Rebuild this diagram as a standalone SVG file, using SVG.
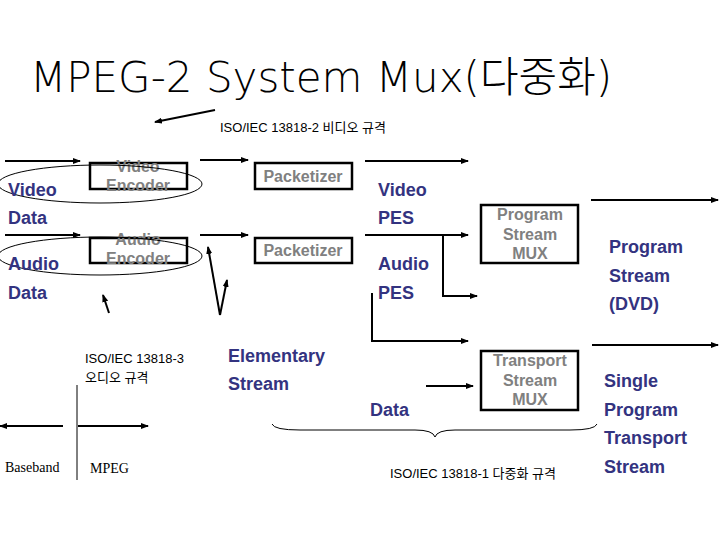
<svg xmlns="http://www.w3.org/2000/svg" width="720" height="540" viewBox="0 0 720 540">
<defs><marker id="ah" markerWidth="8" markerHeight="6" refX="7" refY="3" orient="auto" markerUnits="userSpaceOnUse"><path d="M0,0L8,3L0,6z" fill="#000"/></marker></defs>
<style>
.b{font-family:"Liberation Sans",Arial,sans-serif;font-weight:bold;font-size:18px;fill:#333380}
.g{font-family:"Liberation Sans",Arial,sans-serif;font-weight:bold;font-size:16px;fill:#808080;text-anchor:middle}
.s{font-family:"Liberation Sans","Noto Sans CJK KR",sans-serif;font-size:13px;fill:#000}
.box{fill:#fff;stroke:#000;stroke-width:2.5}
.ar{stroke:#000;stroke-width:2;fill:none;marker-end:url(#ah)}
</style>
<rect width="720" height="540" fill="#fff"/>
<text x="30" y="92" font-family="DejaVu Sans,'Noto Sans CJK KR',sans-serif" font-weight="200" font-size="42" fill="#000">MPEG-2 System Mux(다중화)</text>
<text class="s" x="220" y="132">ISO/IEC 13818-2 비디오 규격</text>
<g id="connectors">
<line class="ar" x1="215" y1="110" x2="155" y2="122"/>
<line class="ar" x1="5" y1="161" x2="80" y2="161"/>
<line class="ar" x1="200" y1="160" x2="248" y2="160"/>
<line class="ar" x1="5" y1="235" x2="80" y2="235"/>
<line class="ar" x1="200" y1="235" x2="248" y2="235"/>
<line class="ar" x1="109" y1="313" x2="103" y2="295"/>
<line class="ar" x1="220" y1="315" x2="208" y2="247"/>
<line class="ar" x1="220" y1="315" x2="227" y2="280"/>
<line class="ar" x1="365" y1="161" x2="468" y2="161"/>
<line class="ar" x1="365" y1="235" x2="468" y2="235"/>
<polyline class="ar" points="443,235 443,296 477,296"/>
<polyline class="ar" points="372,293 372,341 468,341"/>
<line class="ar" x1="591" y1="200" x2="718" y2="200"/>
<line class="ar" x1="426" y1="386" x2="473" y2="386"/>
<line class="ar" x1="592" y1="345" x2="718" y2="345"/>
<line stroke="#000" stroke-width="1" x1="77" y1="385" x2="77" y2="480"/>
<line class="ar" x1="63" y1="426" x2="0" y2="426"/>
<line class="ar" x1="78" y1="426" x2="148" y2="426"/>
<path d="M272,424 Q274,430 300,430 L415,430 Q433,430 435,437 Q437,430 455,430 L570,430 Q595,430 597,424" fill="none" stroke="#000" stroke-width="1"/>
</g>
<g id="video-encoder"><rect class="box" x="90" y="163" width="97" height="26"/><text class="g" x="138" y="172">Video</text><text class="g" x="138" y="191">Encoder</text></g>
<ellipse cx="100" cy="184" rx="102" ry="19" fill="none" stroke="#000" stroke-width="1"/>
<g id="audio-encoder"><rect class="box" x="90" y="238" width="97" height="25"/><text class="g" x="138" y="245">Audio</text><text class="g" x="138" y="264">Encoder</text></g>
<ellipse cx="100" cy="256" rx="102" ry="19" fill="none" stroke="#000" stroke-width="1"/>
<g id="packetizer1"><rect class="box" x="255" y="163" width="97" height="26"/><text class="g" x="303" y="182">Packetizer</text></g>
<g id="packetizer2"><rect class="box" x="255" y="238" width="97" height="25"/><text class="g" x="303" y="256">Packetizer</text></g>
<g id="ps-mux"><rect class="box" x="481" y="205" width="97" height="58"/><text class="g" x="530" y="220">Program</text><text class="g" x="530" y="240">Stream</text><text class="g" x="530" y="259">MUX</text></g>
<g id="ts-mux"><rect class="box" x="481" y="351" width="97" height="59"/><text class="g" x="530" y="366">Transport</text><text class="g" x="530" y="386">Stream</text><text class="g" x="530" y="405">MUX</text></g>
<text class="b" x="8" y="196">Video</text><text class="b" x="8" y="224">Data</text>
<text class="b" x="8" y="270">Audio</text><text class="b" x="8" y="299">Data</text>
<text class="b" x="378" y="196">Video</text><text class="b" x="378" y="224">PES</text>
<text class="b" x="378" y="270">Audio</text><text class="b" x="378" y="299">PES</text>
<text class="b" x="609" y="253">Program</text><text class="b" x="609" y="282">Stream</text><text class="b" x="609" y="310">(DVD)</text>
<text class="b" x="228" y="362">Elementary</text><text class="b" x="228" y="390">Stream</text>
<text class="b" x="370" y="416">Data</text>
<text class="b" x="604" y="387">Single</text><text class="b" x="604" y="416">Program</text><text class="b" x="604" y="444">Transport</text><text class="b" x="604" y="473">Stream</text>
<text class="s" x="85" y="363">ISO/IEC 13818-3</text><text class="s" x="85" y="382">오디오 규격</text>
<text class="s" x="390" y="478">ISO/IEC 13818-1 다중화 규격</text>
<text x="5" y="472" font-family="Liberation Serif,serif" font-size="14">Baseband</text>
<text x="90" y="473" font-family="Liberation Serif,serif" font-size="14">MPEG</text>
</svg>
